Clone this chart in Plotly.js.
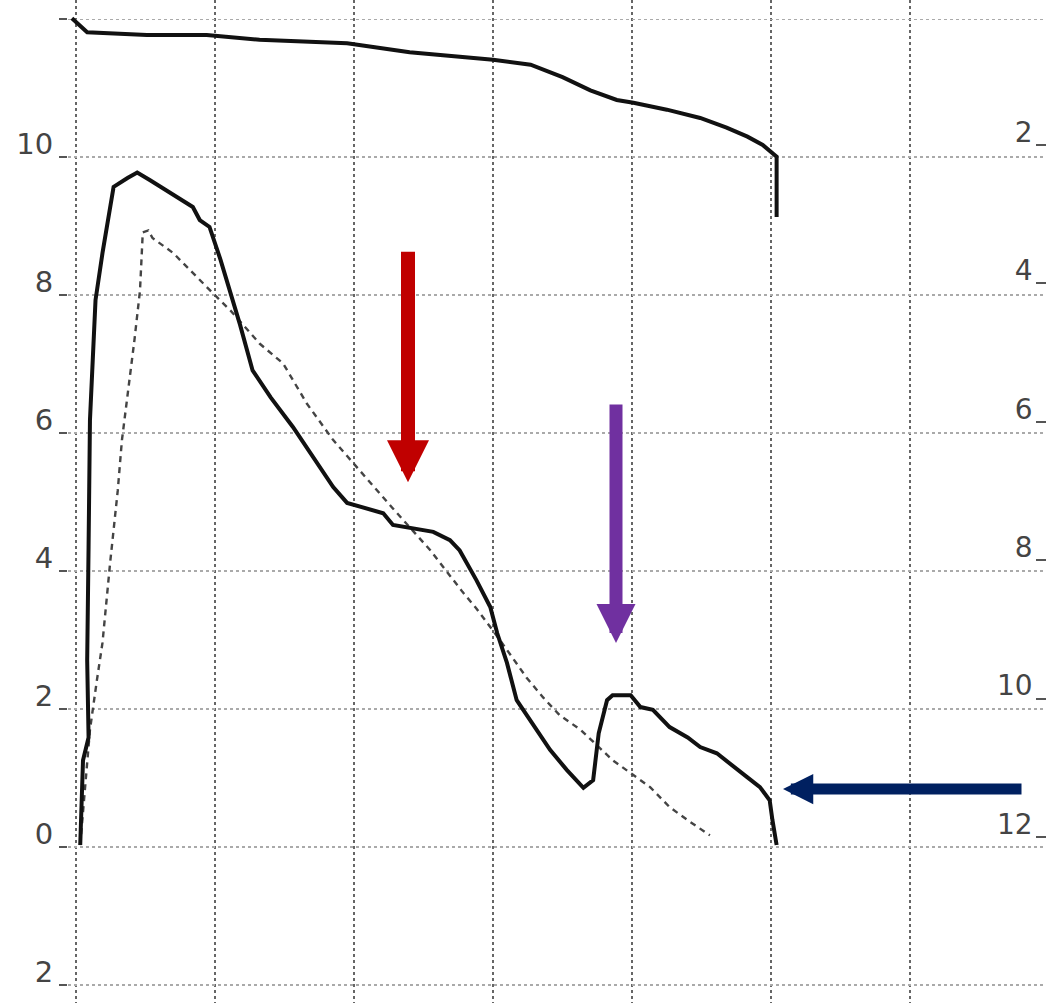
<!DOCTYPE html>
<html>
<head>
<meta charset="utf-8">
<script src="https://cdn.plot.ly/plotly-3.0.1.min.js"></script>
<style>html,body{margin:0;padding:0;background:#fff;}#chart{width:1050px;height:1003px;}</style>
</head>
<body>
<div id="chart"></div>
<script>
// Measured flow-volume curve (solid)
const flowX = [0.03,0.04,0.05,0.09,0.08,0.09,0.10,0.12,0.13,0.14,0.19,0.24,0.27,0.37,0.44,0.53,0.65,0.84,0.89,0.96,1.04,1.13,1.18,1.27,1.40,1.56,1.73,1.85,1.95,2.08,2.21,2.28,2.57,2.69,2.76,2.88,2.98,3.03,3.10,3.17,3.27,3.41,3.53,3.65,3.72,3.76,3.82,3.86,3.99,4.06,4.15,4.27,4.40,4.49,4.61,4.73,4.83,4.92,4.99,5.01,5.04];
const flowY = [0.03,0.68,1.26,1.59,2.71,4.35,6.19,7.06,7.49,7.93,8.61,9.19,9.57,9.70,9.78,9.67,9.52,9.28,9.09,8.99,8.51,7.93,7.57,6.91,6.52,6.09,5.57,5.22,4.99,4.91,4.84,4.67,4.57,4.45,4.30,3.87,3.48,3.10,2.67,2.13,1.84,1.41,1.12,0.86,0.97,1.65,2.13,2.20,2.20,2.03,1.99,1.74,1.59,1.45,1.36,1.16,1.01,0.87,0.68,0.39,0.03];

// Predicted curve (dashed)
const predX = [0.03,0.10,0.15,0.19,0.245,0.30,0.33,0.37,0.42,0.46,0.48,0.52,0.55,0.70,0.82,0.94,1.11,1.32,1.49,1.66,1.85,2.04,2.15,2.27,2.55,2.67,2.78,2.88,3.05,3.24,3.36,3.48,3.63,3.86,4.01,4.13,4.27,4.40,4.56];
const predY = [0.03,1.70,2.42,2.96,4.12,5.17,5.90,6.52,7.35,8.07,8.91,8.94,8.83,8.61,8.36,8.12,7.78,7.30,7.01,6.43,5.90,5.46,5.20,4.93,4.30,3.99,3.70,3.46,3.00,2.46,2.17,1.91,1.70,1.26,1.04,0.87,0.58,0.39,0.17];

// Volume curve (top, right axis)
const volX = [-0.03,0.08,0.51,0.94,1.32,1.95,2.40,3.00,3.27,3.50,3.70,3.89,4.01,4.25,4.49,4.68,4.83,4.94,5.04,5.04];
const volR = [0.17,0.37,0.41,0.41,0.48,0.53,0.66,0.77,0.84,1.02,1.21,1.35,1.39,1.49,1.61,1.75,1.88,2.00,2.17,3.04];

// Tick labels
const leftTickVals = [-2,0,2,4,6,8,10,12];
const leftTickText = ["2","0","2","4","6","8","10",""];
const rightTickVals = [2,4,6,8,10,12];
const rightTickText = ["2","4","6","8","10","12"];
const xTickVals = [0,1,2,3,4,5,6,7];

const traces = [
  {x: predX, y: predY, type:'scatter', mode:'lines', line:{color:'#444', width:2.4, dash:'6px,5px'}, hoverinfo:'skip'},
  {x: flowX, y: flowY, type:'scatter', mode:'lines', line:{color:'#111', width:4}, hoverinfo:'skip'},
  {x: volX, y: volR, yaxis:'y2', type:'scatter', mode:'lines', line:{color:'#111', width:4}, hoverinfo:'skip'}
];

const layout = {
  width:1050, height:1003,
  margin:{l:68, r:4, t:0, b:0, pad:0},
  paper_bgcolor:'#fff', plot_bgcolor:'#fff',
  showlegend:false,
  font:{family:'DejaVu Sans', color:'#444', size:29},
  xaxis:{range:[-0.058,6.978], tickvals:xTickVals, showticklabels:false, ticks:'',
         showgrid:true, gridcolor:'#666', gridwidth:1.6, griddash:'dot', zeroline:false, showline:false},
  yaxis:{range:[-2.26,12.28], tickvals:leftTickVals, ticktext:leftTickText, ticks:'outside', ticklen:8, tickwidth:2, tickcolor:'#555',
         ticklabelshift:-13, ticklabelstandoff:0,
         showgrid:true, gridcolor:'#aaa', gridwidth:1.6, griddash:'dot', zeroline:false, showline:false},
  yaxis2:{range:[14.40,-0.095], overlaying:'y', side:'right', tickvals:rightTickVals, ticktext:rightTickText,
          ticks:'inside', ticklen:10, tickwidth:2, tickcolor:'#555', ticklabelposition:'inside', ticklabelshift:13,
          ticklabelstandoff:6, tickfont:{size:28}, showgrid:false, zeroline:false, showline:false},
  annotations:[
    {x:(408-68)/139-0.058, y:(1003-482)/69-2.26, xref:'x', yref:'y', ax:0, ay:-232, text:'', showarrow:true,
     arrowhead:2, arrowsize:0.6, arrowwidth:14, arrowcolor:'#C00000', standoff:0},
    {x:(616-68)/139-0.058, y:(1003-643)/69-2.26, xref:'x', yref:'y', ax:0, ay:-240, text:'', showarrow:true,
     arrowhead:2, arrowsize:0.6, arrowwidth:13, arrowcolor:'#7030A0', standoff:0},
    {x:(783-68)/139-0.058, y:(1003-789)/69-2.26, xref:'x', yref:'y', ax:240, ay:0, text:'', showarrow:true,
     arrowhead:2, arrowsize:0.55, arrowwidth:11, arrowcolor:'#002060', standoff:0}
  ]
};

Plotly.newPlot('chart', traces, layout, {staticPlot:true, displayModeBar:false});
</script>
</body>
</html>
